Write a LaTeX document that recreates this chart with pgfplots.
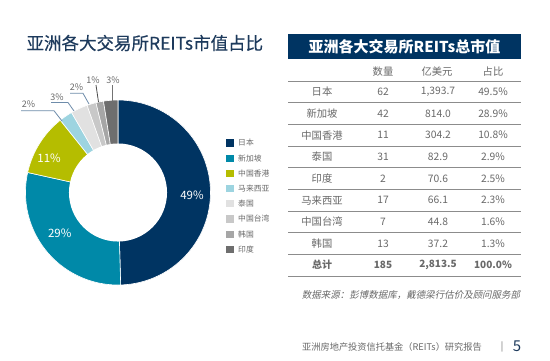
\documentclass[border=0pt]{standalone}
\usepackage{pgfplots}
\pgfplotsset{compat=1.18}
\usepackage{pgfplotstable}
\usepackage{fontspec}
\setmainfont{Noto Sans CJK SC}
\newfontfamily\slfont[FakeSlant=0.2]{Noto Sans CJK SC}
\newfontfamily\medfont[FakeBold=0.25]{Noto Sans CJK SC}

\definecolor{cJP}{RGB}{0,52,98}
\definecolor{cSG}{RGB}{0,137,168}
\definecolor{cHK}{RGB}{181,189,0}
\definecolor{cMY}{RGB}{157,212,224}
\definecolor{cTH}{RGB}{225,225,225}
\definecolor{cTW}{RGB}{200,200,200}
\definecolor{cKR}{RGB}{166,166,166}
\definecolor{cIN}{RGB}{110,110,110}
\definecolor{titlec}{RGB}{29,58,92}
\definecolor{txt}{RGB}{105,105,105}
\definecolor{rule}{RGB}{140,140,140}
\definecolor{leadb}{RGB}{110,140,170}

% donut data, clockwise from 12 o'clock (value in 100 million USD)
\pgfplotstableread[col sep=comma]{
key,value,color
JP,1393.7,cJP
SG,814.0,cSG
HK,304.2,cHK
MY,66.1,cMY
TH,82.9,cTH
TW,44.8,cTW
KR,37.2,cKR
IN,70.6,cIN
}\donutdata

\newcommand\trow[6][]{%
  \node[txt,#1] at (322,{91.8+21.67*#2}) {#3};
  \node[txt,#1] at (383,{91.8+21.67*#2}) {#4};
  \node[txt,#1] at (438,{91.8+21.67*#2}) {#5};
  \node[txt,#1] at (493,{91.8+21.67*#2}) {#6};
}

\begin{document}
\begin{tikzpicture}[x=1pt,y=-1pt]
\path[use as bounding box, fill=white] (0,0) rectangle (550,360);

% total
\def\total{0}
\pgfplotsforeachungrouped \i in {0,...,7}{%
  \pgfplotstablegetelem{\i}{value}\of\donutdata
  \pgfmathsetmacro\total{\total+\pgfplotsretval}%
}

\begin{axis}[at={(118pt,-192.5pt)}, anchor=center, x=92.5pt, y=92.5pt,
  xmin=-1, xmax=1, ymin=-1, ymax=1, hide axis, clip=false]
\def\cum{0}
\pgfplotsforeachungrouped \i in {0,...,7}{%
  \pgfplotstablegetelem{\i}{value}\of\donutdata \let\v\pgfplotsretval
  \pgfplotstablegetelem{\i}{color}\of\donutdata \let\c\pgfplotsretval
  \pgfmathsetmacro\aS{90-(\cum/\total)*360}%
  \pgfmathsetmacro\cum{\cum+\v}%
  \pgfmathsetmacro\aE{90-(\cum/\total)*360}%
  \edef\doplot{\noexpand\addplot[fill=\c, draw=white, line width=0.6pt, domain=\aE:\aS, samples=60] ({cos(x)},{sin(x)}) -- (axis cs:0,0) -- cycle;}%
  \doplot
}
\fill[white] (axis cs:0,0) circle[radius=0.53];
\node[white, font=\fontsize{11.5}{13}\selectfont] at (axis cs:0.80,-0.03) {49\%};
\node[white, font=\fontsize{11.5}{13}\selectfont] at (axis cs:-0.63,-0.44) {29\%};
\node[white, font=\fontsize{11.5}{13}\selectfont] at (axis cs:-0.745,0.365) {11\%};
\end{axis}

% title
\node[titlec, anchor=west, font=\fontsize{17.5}{20}\medfont] at (23,43) {亚洲各大交易所REITs市值占比};

% outside labels and leader lines
\begin{scope}[font=\fontsize{9}{10}\selectfont]
\node[txt] at (28.5,104) {2\%};
\draw[leadb, line width=0.8pt] (21,110.7) -- (54,110.7) -- (62,121);
\node[txt] at (57,97) {3\%};
\draw[leadb, line width=0.8pt] (51,102.5) -- (68,102.5) -- (74,111);
\node[txt] at (76.5,87.5) {2\%};
\draw[leadb, line width=0.8pt] (70,93.3) -- (83,93.3) -- (89,104);
\node[txt] at (93,80) {1\%};
\draw[black!70, line width=0.8pt] (96,85) -- (98.5,102);
\node[txt] at (113,80) {3\%};
\draw[black!55, line width=0.8pt] (112,85) -- (112,101);
\end{scope}

% legend
\begin{scope}[font=\fontsize{7.8}{9}\selectfont]
\foreach \c/\t [count=\k from 0] in {cJP/日本, cSG/新加坡, cHK/中国香港, cMY/马来西亚, cTH/泰国, cTW/中国台湾, cKR/韩国, cIN/印度}{
  \fill[\c] (226.3,{142.9+15.2*\k-3.6}) rectangle ++(7.2,7.2);
  \node[txt, anchor=west, inner sep=0pt] at (238,{142.9+15.2*\k}) {\t};
}
\end{scope}

% table header
\fill[cJP] (288,34) rectangle (521,59);
\node[white, font=\fontsize{15}{17}\selectfont\bfseries] at (404.5,46.5) {亚洲各大交易所REITs总市值};

\begin{scope}[font=\fontsize{10.3}{12}\selectfont]
\node[txt] at (383,71.5) {数量};
\node[txt] at (437,71.5) {亿美元};
\node[txt] at (493,71.5) {占比};
\foreach \k in {0,...,9}{
  \draw[rule, line width=0.9pt] (288,{81+21.67*\k}) -- (521,{81+21.67*\k});
}
\trow{0}{日本}{62}{1,393.7}{49.5\%}
\trow{1}{新加坡}{42}{814.0}{28.9\%}
\trow{2}{中国香港}{11}{304.2}{10.8\%}
\trow{3}{泰国}{31}{82.9}{2.9\%}
\trow{4}{印度}{2}{70.6}{2.5\%}
\trow{5}{马来西亚}{17}{66.1}{2.3\%}
\trow{6}{中国台湾}{7}{44.8}{1.6\%}
\trow{7}{韩国}{13}{37.2}{1.3\%}
\trow[font=\bfseries]{8}{总计}{185}{2,813.5}{100.0\%}
\end{scope}

% source
\node[txt, font=\fontsize{9.5}{11}\slfont] at (411,295) {数据来源：彭博数据库，戴德梁行估价及顾问服务部};

% footer
\node[txt, anchor=west, inner sep=0pt, font=\fontsize{9.2}{11}\selectfont] at (302,347) {亚洲房地产投资信托基金（REITs）研究报告};
\node[txt, inner sep=0pt, font=\fontsize{9.2}{11}\selectfont] at (502,347) {|};
\node[titlec, inner sep=0pt, font=\fontsize{15}{17}\selectfont] at (517,346) {5};
\end{tikzpicture}
\end{document}
